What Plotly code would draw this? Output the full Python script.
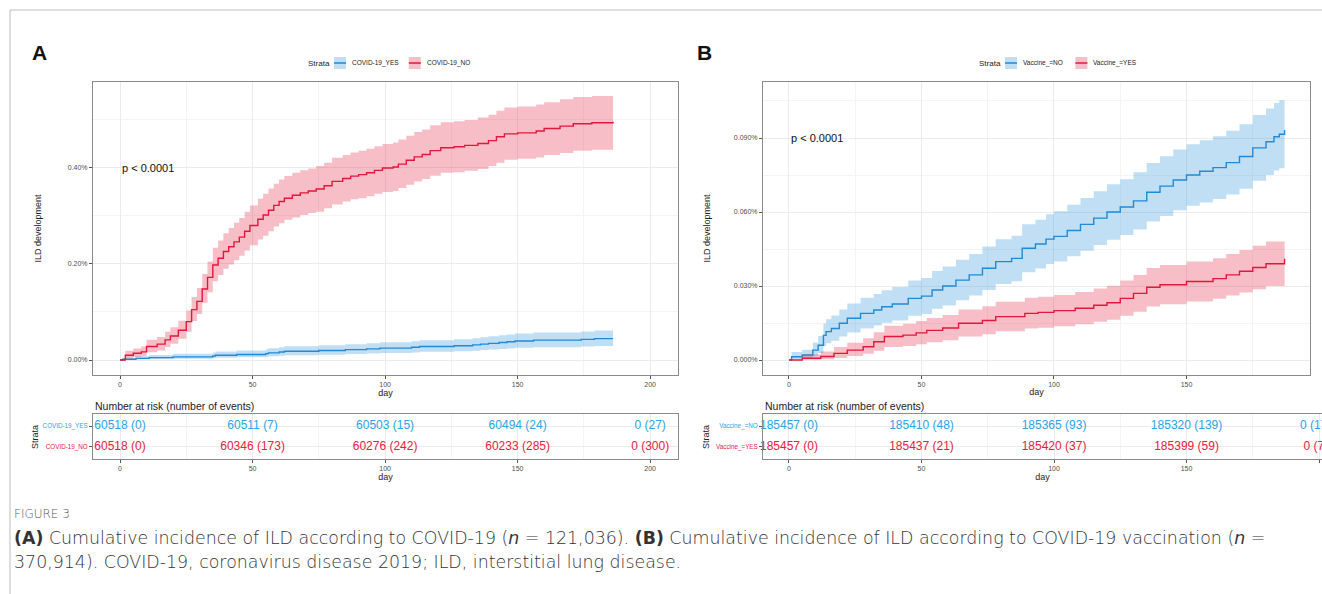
import plotly.graph_objects as go

W, H = 1322, 594

# ---------------- DATA ----------------
# Panel A: cumulative incidence (%) by COVID-19 status
a_yes_days = [0, 1, 6, 11, 20, 35, 36, 44, 55, 56, 60, 62, 75, 85, 93, 98, 110, 113, 126, 133, 136, 139, 143, 146, 149, 156, 174, 179, 186]
a_yes_est = [0, 0.00165, 0.0033, 0.0050, 0.0066, 0.0083, 0.0099, 0.0116, 0.0132, 0.0149, 0.0165, 0.0182, 0.0198, 0.0215, 0.0231, 0.0248, 0.0264, 0.0281, 0.0297, 0.0314, 0.0330, 0.0347, 0.0364, 0.0380, 0.0397, 0.0413, 0.0430, 0.0446, 0.0446]
a_yes_lo = [0, 0.0002, 0.0008, 0.0016, 0.0025, 0.0035, 0.0045, 0.0055, 0.0066, 0.0077, 0.0088, 0.0100, 0.0111, 0.0123, 0.0134, 0.0146, 0.0158, 0.0170, 0.0182, 0.0194, 0.0206, 0.0218, 0.0230, 0.0242, 0.0254, 0.0267, 0.0279, 0.0291, 0.0291]
a_yes_hi = [0, 0.0049, 0.0079, 0.0106, 0.0131, 0.0155, 0.0178, 0.0200, 0.0222, 0.0244, 0.0266, 0.0287, 0.0308, 0.0329, 0.0350, 0.0371, 0.0391, 0.0412, 0.0432, 0.0452, 0.0473, 0.0493, 0.0513, 0.0533, 0.0553, 0.0573, 0.0593, 0.0612, 0.0612]

a_no_days = [0, 2, 5, 8, 10, 14, 17, 19, 22, 25, 27, 29, 31, 33, 35, 37, 39, 41, 43, 45, 47, 49, 52, 54, 56, 58, 60, 62, 65, 68, 71, 74, 77, 80, 84, 87, 90, 93, 96, 99, 103, 105, 108, 111, 114, 117, 121, 126, 130, 135, 139, 142, 145, 150, 157, 160, 166, 171, 178, 186]
a_no_est = [0, 0.010, 0.014, 0.017, 0.028, 0.033, 0.042, 0.050, 0.062, 0.080, 0.105, 0.122, 0.148, 0.172, 0.198, 0.212, 0.226, 0.236, 0.246, 0.256, 0.268, 0.280, 0.293, 0.302, 0.312, 0.322, 0.330, 0.337, 0.343, 0.348, 0.352, 0.356, 0.363, 0.372, 0.378, 0.383, 0.386, 0.390, 0.395, 0.400, 0.402, 0.408, 0.416, 0.423, 0.428, 0.436, 0.442, 0.444, 0.447, 0.451, 0.457, 0.465, 0.471, 0.473, 0.477, 0.482, 0.487, 0.492, 0.494, 0.496]
a_no_lo = [0, 0.003, 0.006, 0.008, 0.016, 0.020, 0.027, 0.034, 0.044, 0.059, 0.081, 0.096, 0.119, 0.141, 0.164, 0.177, 0.190, 0.199, 0.208, 0.217, 0.228, 0.239, 0.251, 0.259, 0.268, 0.278, 0.285, 0.292, 0.297, 0.302, 0.306, 0.309, 0.316, 0.324, 0.330, 0.335, 0.337, 0.341, 0.346, 0.350, 0.352, 0.358, 0.365, 0.372, 0.377, 0.384, 0.390, 0.391, 0.394, 0.398, 0.404, 0.411, 0.417, 0.419, 0.422, 0.427, 0.431, 0.436, 0.438, 0.440]
a_no_hi = [0, 0.019, 0.024, 0.028, 0.042, 0.048, 0.059, 0.068, 0.082, 0.103, 0.131, 0.150, 0.179, 0.205, 0.234, 0.249, 0.264, 0.275, 0.286, 0.296, 0.309, 0.322, 0.336, 0.346, 0.357, 0.367, 0.376, 0.383, 0.390, 0.395, 0.399, 0.404, 0.411, 0.421, 0.427, 0.432, 0.436, 0.440, 0.445, 0.450, 0.453, 0.459, 0.467, 0.475, 0.480, 0.489, 0.495, 0.497, 0.500, 0.505, 0.511, 0.519, 0.526, 0.528, 0.532, 0.537, 0.543, 0.548, 0.550, 0.552]

# Panel B: cumulative incidence (%) by vaccination status
b_no_days = [0, 1, 5, 9, 11, 13, 14, 16, 19, 22, 27, 32, 35, 39, 45, 50, 54, 58, 63, 68, 73, 78, 84, 88, 93, 97, 100, 105, 110, 115, 120, 125, 130, 135, 140, 145, 150, 155, 160, 165, 170, 175, 180, 183, 185, 187]
b_no_est = [0, 0.0013, 0.0020, 0.0040, 0.0060, 0.0100, 0.0115, 0.0128, 0.0149, 0.0169, 0.0189, 0.0203, 0.0216, 0.0227, 0.0250, 0.0259, 0.0284, 0.0300, 0.0324, 0.0345, 0.0372, 0.0399, 0.0412, 0.0453, 0.0470, 0.0490, 0.0501, 0.0525, 0.0550, 0.0575, 0.0600, 0.0620, 0.0645, 0.0680, 0.0705, 0.0730, 0.0750, 0.0765, 0.0780, 0.0800, 0.0825, 0.0860, 0.0885, 0.0905, 0.0915, 0.0932]
b_no_lo = [0, 0.0003, 0.0006, 0.0015, 0.0028, 0.0057, 0.0068, 0.0078, 0.0095, 0.0111, 0.0128, 0.0140, 0.0151, 0.0160, 0.0179, 0.0186, 0.0208, 0.0221, 0.0242, 0.0261, 0.0284, 0.0308, 0.0319, 0.0356, 0.0371, 0.0389, 0.0399, 0.0421, 0.0443, 0.0466, 0.0488, 0.0507, 0.0529, 0.0561, 0.0584, 0.0607, 0.0625, 0.0639, 0.0653, 0.0671, 0.0694, 0.0727, 0.0750, 0.0768, 0.0777, 0.0793]
b_no_hi = [0, 0.0032, 0.0042, 0.0070, 0.0097, 0.0148, 0.0165, 0.0180, 0.0205, 0.0229, 0.0252, 0.0268, 0.0283, 0.0296, 0.0322, 0.0332, 0.0361, 0.0379, 0.0406, 0.0430, 0.0460, 0.0490, 0.0504, 0.0550, 0.0569, 0.0591, 0.0603, 0.0629, 0.0657, 0.0684, 0.0712, 0.0733, 0.0761, 0.0799, 0.0826, 0.0853, 0.0875, 0.0891, 0.0907, 0.0929, 0.0956, 0.0993, 0.1020, 0.1042, 0.1053, 0.1071]

b_yes_days = [0, 5, 12, 17, 22, 28, 32, 36, 43, 48, 52, 58, 64, 73, 78, 89, 94, 100, 108, 115, 120, 125, 130, 135, 140, 150, 160, 165, 170, 175, 180, 187]
b_yes_est = [0, 0.0007, 0.0014, 0.0027, 0.0040, 0.0054, 0.0074, 0.0095, 0.0101, 0.0110, 0.0120, 0.0130, 0.0149, 0.0160, 0.0176, 0.0189, 0.0193, 0.0200, 0.0210, 0.0222, 0.0232, 0.0250, 0.0270, 0.0295, 0.0305, 0.0318, 0.0330, 0.0345, 0.0360, 0.0375, 0.0390, 0.0410]
b_yes_lo = [0, 0.0001, 0.0003, 0.0008, 0.0016, 0.0025, 0.0038, 0.0053, 0.0057, 0.0064, 0.0072, 0.0080, 0.0095, 0.0104, 0.0117, 0.0128, 0.0131, 0.0137, 0.0145, 0.0155, 0.0163, 0.0179, 0.0196, 0.0217, 0.0226, 0.0237, 0.0248, 0.0261, 0.0274, 0.0287, 0.0300, 0.0318]
b_yes_hi = [0, 0.0022, 0.0034, 0.0053, 0.0070, 0.0088, 0.0113, 0.0139, 0.0147, 0.0158, 0.0170, 0.0182, 0.0205, 0.0218, 0.0236, 0.0252, 0.0256, 0.0264, 0.0276, 0.0290, 0.0301, 0.0322, 0.0345, 0.0373, 0.0385, 0.0399, 0.0413, 0.0430, 0.0446, 0.0463, 0.0480, 0.0502]

# Risk tables
risk_days = [0, 50, 100, 150, 200]
a_yes_risk = [60518, 60511, 60503, 60494, 0]
a_yes_events = [0, 7, 15, 24, 27]
a_no_risk = [60518, 60346, 60276, 60233, 0]
a_no_events = [0, 173, 242, 285, 300]
b_no_risk = [185457, 185410, 185365, 185320, 0]
b_no_events = [0, 48, 93, 139, 172]
b_yes_risk = [185457, 185437, 185420, 185399, 0]
b_yes_events = [0, 21, 37, 59, 76]

x_ticks = [0, 50, 100, 150, 200]
a_y_ticks = [0, 0.2, 0.4]
a_y_labels = ["0.00%", "0.20%", "0.40%"]
b_y_ticks = [0, 0.03, 0.06, 0.09]
b_y_labels = ["0.000%", "0.030%", "0.060%", "0.090%"]
a_strata = ["COVID-19_YES", "COVID-19_NO"]
b_strata = ["Vaccine_=NO", "Vaccine_=YES"]

# ---------------- STYLE ----------------
BLUE = "#1F8AD6"
RED = "#E3173A"
BLUE_TXT = "#2AA4E8"
RED_TXT = "#E8203F"
BLUE_BAND = "rgba(46,150,220,0.30)"
RED_BAND = "rgba(230,40,70,0.30)"
FONT = "Liberation Sans"


def fx(p):
    return p / W


def fy(p):
    return 1 - p / H


fig = go.Figure()


def add_curve(days, est, lo, hi, line_col, band_col, xa, ya):
    fig.add_trace(go.Scatter(x=days, y=lo, mode="lines", line=dict(width=0, shape="hv"),
                             showlegend=False, hoverinfo="skip", xaxis=xa, yaxis=ya))
    fig.add_trace(go.Scatter(x=days, y=hi, mode="lines", line=dict(width=0, shape="hv"),
                             fill="tonexty", fillcolor=band_col, showlegend=False,
                             hoverinfo="skip", xaxis=xa, yaxis=ya))
    fig.add_trace(go.Scatter(x=days, y=est, mode="lines", line=dict(width=1.4, color=line_col, shape="hv"),
                             showlegend=False, xaxis=xa, yaxis=ya))


add_curve(a_yes_days, a_yes_est, a_yes_lo, a_yes_hi, BLUE, BLUE_BAND, "x", "y")
add_curve(a_no_days, a_no_est, a_no_lo, a_no_hi, RED, RED_BAND, "x", "y")
add_curve(b_no_days, b_no_est, b_no_lo, b_no_hi, BLUE, BLUE_BAND, "x3", "y3")
add_curve(b_yes_days, b_yes_est, b_yes_lo, b_yes_hi, RED, RED_BAND, "x3", "y3")


def add_risk(risk, events, yval, col, xa, ya):
    fig.add_trace(go.Scatter(x=risk_days, y=[yval] * len(risk_days), mode="text",
                             text=[f"{n} ({e})" for n, e in zip(risk, events)],
                             textfont=dict(family=FONT, size=12, color=col),
                             textposition="middle center", cliponaxis=False,
                             showlegend=False, xaxis=xa, yaxis=ya))


add_risk(a_yes_risk, a_yes_events, 1, BLUE_TXT, "x2", "y2")
add_risk(a_no_risk, a_no_events, 0, RED_TXT, "x2", "y2")
add_risk(b_no_risk, b_no_events, 1, BLUE_TXT, "x4", "y4")
add_risk(b_yes_risk, b_yes_events, 0, RED_TXT, "x4", "y4")

tickfont = dict(family=FONT, size=7, color="#4d4d4d")
titlefont = dict(family=FONT, size=9, color="#222")
common = dict(showline=True, mirror=True, linecolor="#8a8a8a", linewidth=1,
              ticks="outside", ticklen=3, tickcolor="#555", tickwidth=0.8,
              tickfont=tickfont, showgrid=True, gridcolor="#ebebeb", gridwidth=0.8,
              zeroline=False, fixedrange=True)

xmain = dict(common, tickvals=x_ticks, title=dict(text="day", font=titlefont, standoff=1),
             minor=dict(tick0=0, dtick=25, showgrid=True, gridcolor="#f4f4f4", gridwidth=0.5))
risk_y = dict(common, range=[-0.6, 1.6], tickvals=[1, 0], tickfont=dict(family=FONT, size=6.3))

fig.update_layout(
    width=W, height=H, margin=dict(l=0, r=0, t=0, b=0),
    paper_bgcolor="white", plot_bgcolor="white", showlegend=False,
    font=dict(family=FONT, color="#222"),
    xaxis=dict(xmain, domain=[fx(93), fx(678)], range=[-10.2, 210.5], anchor="y"),
    yaxis=dict(common, domain=[fy(375), fy(82)], range=[-0.03125, 0.579], anchor="x",
               tickvals=a_y_ticks, ticktext=a_y_labels,
               title=dict(text="ILD development", font=titlefont, standoff=24),
               minor=dict(tick0=0, dtick=0.1, showgrid=True, gridcolor="#f4f4f4", gridwidth=0.5)),
    xaxis2=dict(xmain, domain=[fx(93), fx(678)], range=[-10.2, 210.5], anchor="y2"),
    yaxis2=dict(risk_y, domain=[fy(459), fy(414)], anchor="x2",
                ticktext=[f"<span style='color:{BLUE_TXT}'>{a_strata[0]}</span>",
                          f"<span style='color:{RED_TXT}'>{a_strata[1]}</span>"]),
    xaxis3=dict(xmain, domain=[fx(763), fx(1310)], range=[-9.8, 196.6], anchor="y3"),
    yaxis3=dict(common, domain=[fy(375), fy(82)], range=[-0.00608, 0.1127], anchor="x3",
                tickvals=b_y_ticks, ticktext=b_y_labels,
                title=dict(text="ILD development", font=titlefont, standoff=21),
                minor=dict(tick0=0, dtick=0.015, showgrid=True, gridcolor="#f4f4f4", gridwidth=0.5)),
    xaxis4=dict(xmain, domain=[fx(763), 1.0], range=[-9.8, 201.1], anchor="y4"),
    yaxis4=dict(risk_y, domain=[fy(459), fy(414)], anchor="x4",
                ticktext=[f"<span style='color:{BLUE_TXT}'>{b_strata[0]}</span>",
                          f"<span style='color:{RED_TXT}'>{b_strata[1]}</span>"]),
)

ann = []
# panel letters
ann.append(dict(text="<b>A</b>", x=fx(30), y=fy(52), xref="paper", yref="paper", showarrow=False,
                xanchor="left", yanchor="middle", font=dict(family=FONT, size=21, color="#111")))
ann.append(dict(text="<b>B</b>", x=fx(695), y=fy(52), xref="paper", yref="paper", showarrow=False,
                xanchor="left", yanchor="middle", font=dict(family=FONT, size=21, color="#111")))
# p-values
ann.append(dict(text="p < 0.0001", x=0, y=0.4, xref="x", yref="y", showarrow=False,
                xanchor="left", yanchor="middle", font=dict(family=FONT, size=11, color="#111")))
ann.append(dict(text="p < 0.0001", x=0, y=0.09, xref="x3", yref="y3", showarrow=False,
                xanchor="left", yanchor="middle", font=dict(family=FONT, size=11, color="#111")))
# risk table titles and Strata labels
for xp in (93, 763):
    ann.append(dict(text="Number at risk (number of events)", x=fx(xp), y=fy(406), xref="paper", yref="paper",
                    showarrow=False, xanchor="left", yanchor="middle",
                    font=dict(family=FONT, size=10.5, color="#222")))
for xp in (35, 706):
    ann.append(dict(text="Strata", x=fx(xp), y=fy(437), xref="paper", yref="paper", showarrow=False,
                    textangle=-90, xanchor="center", yanchor="middle",
                    font=dict(family=FONT, size=9, color="#222")))

# legends (manual keys)
shapes = []


def legend(x0, names):
    ann.append(dict(text="Strata", x=fx(x0), y=fy(63), xref="paper", yref="paper", showarrow=False,
                    xanchor="left", yanchor="middle", font=dict(family=FONT, size=8, color="#222")))
    xk = x0 + 28
    for name, lc, bc in zip(names, [BLUE, RED], [BLUE_BAND, RED_BAND]):
        shapes.append(dict(type="rect", xref="paper", yref="paper", x0=fx(xk), x1=fx(xk + 12),
                           y0=fy(69), y1=fy(57), fillcolor=bc, line=dict(width=0)))
        shapes.append(dict(type="line", xref="paper", yref="paper", x0=fx(xk), x1=fx(xk + 12),
                           y0=fy(63), y1=fy(63), line=dict(color=lc, width=1.5)))
        ann.append(dict(text=name, x=fx(xk + 16), y=fy(63), xref="paper", yref="paper", showarrow=False,
                        xanchor="left", yanchor="middle", font=dict(family=FONT, size=6.5, color="#222")))
        xk += 16 + 4.4 * len(name) + 6


legend(306, a_strata)
legend(977, b_strata)

# caption
CAP = "DejaVu Sans"
ann.append(dict(text="FIGURE 3", x=fx(12), y=fy(514), xref="paper", yref="paper", showarrow=False,
                xanchor="left", yanchor="middle", font=dict(family=CAP, size=12, color="#5a5a5a", weight=300)))
ann.append(dict(text="<b>(A)</b> Cumulative incidence of ILD according to COVID-19 (<i>n</i> = 121,036). "
                     "<b>(B)</b> Cumulative incidence of ILD according to COVID-19 vaccination (<i>n</i> =",
                x=fx(12), y=fy(538), xref="paper", yref="paper", showarrow=False,
                xanchor="left", yanchor="middle", font=dict(family=CAP, size=17.4, color="#333333", weight=300)))
ann.append(dict(text="370,914). COVID-19, coronavirus disease 2019; ILD, interstitial lung disease.",
                x=fx(12), y=fy(562), xref="paper", yref="paper", showarrow=False,
                xanchor="left", yanchor="middle", font=dict(family=CAP, size=17.4, color="#333333", weight=300)))

# page frame
shapes.append(dict(type="line", xref="paper", yref="paper", x0=fx(10), x1=fx(10), y0=0, y1=fy(10),
                   line=dict(color="#bdbdbd", width=1)))
shapes.append(dict(type="line", xref="paper", yref="paper", x0=fx(10), x1=1, y0=fy(10), y1=fy(10),
                   line=dict(color="#bdbdbd", width=1)))

fig.update_layout(annotations=ann, shapes=shapes)
fig.write_html("out.html", config={"displayModeBar": False},
               post_script="document.body.style.margin='0px';document.body.style.overflow='hidden';")
